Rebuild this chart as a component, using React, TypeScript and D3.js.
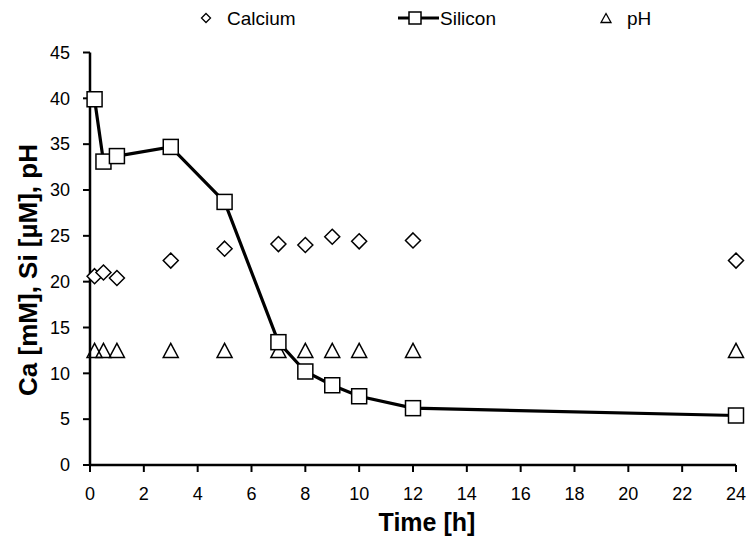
import React from "react";
import * as d3 from "d3";

const timeH = [0.17, 0.5, 1, 3, 5, 7, 8, 9, 10, 12, 24];
const calcium = [20.6, 21.0, 20.4, 22.3, 23.6, 24.1, 24.0, 24.9, 24.4, 24.5, 22.3];
const silicon = [39.9, 33.1, 33.7, 34.7, 28.7, 13.4, 10.2, 8.7, 7.5, 6.2, 5.4];
const pH = [12.5, 12.5, 12.5, 12.5, 12.5, 12.5, 12.5, 12.5, 12.5, 12.5, 12.5];
const xTicks = [0, 2, 4, 6, 8, 10, 12, 14, 16, 18, 20, 22, 24];
const yTicks = [0, 5, 10, 15, 20, 25, 30, 35, 40, 45];

const W = 753, H = 543;
const FONT = "Arial, 'Liberation Sans', sans-serif";

export default function App() {
  const x = d3.scaleLinear().domain([0, 24]).range([90, 736]);
  const y = d3.scaleLinear().domain([0, 45]).range([465, 52.5]);
  const line = d3.line<number>().x((_, i) => x(timeH[i])).y((d) => y(d));

  const diamond = (cx: number, cy: number, r: number) =>
    `M${cx},${cy - r}L${cx + r},${cy}L${cx},${cy + r}L${cx - r},${cy}Z`;
  const tri = (cx: number, cy: number, w: number, h: number) =>
    `M${cx},${cy - h / 2}L${cx + w / 2},${cy + h / 2}L${cx - w / 2},${cy + h / 2}Z`;

  const ly = 18;

  return (
    <svg width={W} height={H} style={{ position: "absolute", left: 0, top: 0, background: "#fff" }} fontFamily={FONT}>
      {/* axes */}
      <line x1={x(0)} x2={x(0)} y1={y(45)} y2={y(0)} stroke="#000" strokeWidth={2.5} />
      <line x1={x(0)} x2={x(24)} y1={y(0)} y2={y(0)} stroke="#000" strokeWidth={2.5} />
      {yTicks.map((t) => (
        <g key={"y" + t}>
          <line x1={x(0) - 7} x2={x(0)} y1={y(t)} y2={y(t)} stroke="#000" strokeWidth={2} />
          <text x={x(0) - 20} y={y(t)} dy="0.35em" textAnchor="end" fontSize={18} fill="#000">{t}</text>
        </g>
      ))}
      {xTicks.map((t) => (
        <g key={"x" + t}>
          <line x1={x(t)} x2={x(t)} y1={y(0)} y2={y(0) + 7} stroke="#000" strokeWidth={2} />
          <text x={x(t)} y={500} textAnchor="middle" fontSize={18} fill="#000">{t}</text>
        </g>
      ))}
      <text x={427} y={531} textAnchor="middle" fontSize={25} fontWeight="bold">Time [h]</text>
      <text transform={`translate(37,270) rotate(-90)`} textAnchor="middle" fontSize={26} fontWeight="bold">Ca [mM], Si [µM], pH</text>

      {/* calcium */}
      {calcium.map((v, i) => (
        <path key={"c" + i} d={diamond(x(timeH[i]), y(v), 7.5)} fill="#fff" stroke="#000" strokeWidth={1.5} />
      ))}
      {/* pH */}
      {pH.map((v, i) => (
        <path key={"p" + i} d={tri(x(timeH[i]), y(v), 15, 14)} fill="none" stroke="#000" strokeWidth={1.5} />
      ))}
      {/* silicon */}
      <path d={line(silicon) || ""} fill="none" stroke="#000" strokeWidth={3.2} />
      {silicon.map((v, i) => (
        <rect key={"s" + i} x={x(timeH[i]) - 7.5} y={y(v) - 7.5} width={15} height={15} fill="#fff" stroke="#000" strokeWidth={1.5} />
      ))}

      {/* legend */}
      <path d={diamond(206, ly, 4.5)} fill="#fff" stroke="#000" strokeWidth={1.3} />
      <text x={227} y={ly} dy="0.35em" fontSize={19}>Calcium</text>
      <line x1={398} x2={439} y1={ly} y2={ly} stroke="#000" strokeWidth={3} />
      <rect x={409} y={ly - 6} width={12} height={12} fill="#fff" stroke="#000" strokeWidth={1.5} />
      <text x={440} y={ly} dy="0.35em" fontSize={19}>Silicon</text>
      <path d={tri(606, ly, 10, 9)} fill="none" stroke="#000" strokeWidth={1.3} />
      <text x={627} y={ly} dy="0.35em" fontSize={19}>pH</text>
    </svg>
  );
}
